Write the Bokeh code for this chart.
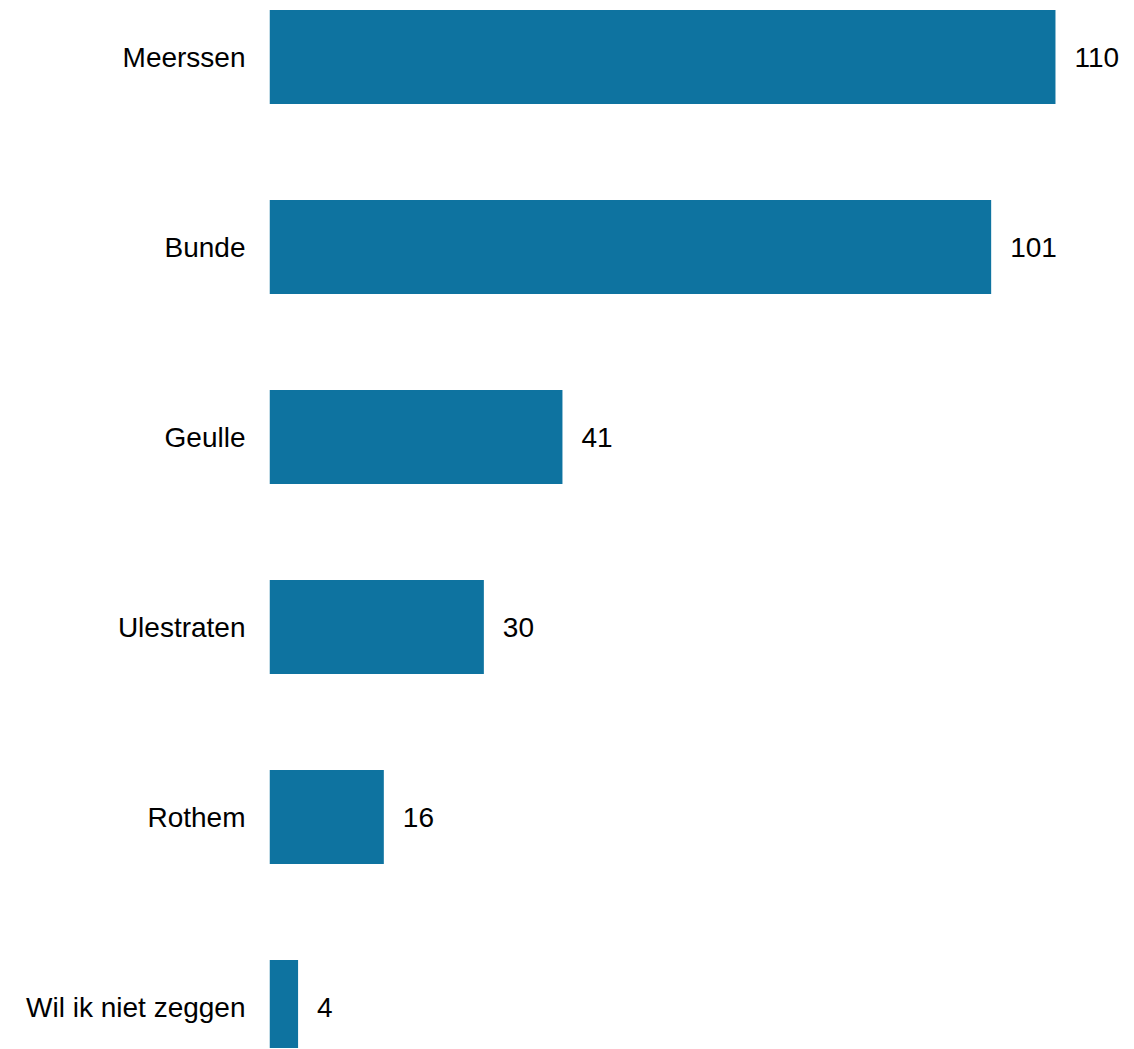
from bokeh.plotting import figure
from bokeh.models import ColumnDataSource, Range1d, FixedTicker
from bokeh.core.properties import value
from bokeh.embed import file_html
from bokeh.resources import INLINE

categories = ["Meerssen", "Bunde", "Geulle", "Ulestraten", "Rothem", "Wil ik niet zeggen"]
counts = [110, 101, 41, 30, 16, 4]

n = len(categories)
ypos = [n - i - 0.5 for i in range(n)]
src = ColumnDataSource(dict(y=ypos, v=counts, lab=[str(c) for c in counts], cat=categories))

FONT = "Liberation Sans"
W, H = 1134, 1048
p = figure(width=W, height=H, output_backend="svg", toolbar_location=None,
           x_range=Range1d(0, 121.06), y_range=Range1d(0.2816, 5.7974),
           min_border_left=269, min_border_right=0, min_border_top=0, min_border_bottom=0)

p.hbar(y="y", right="v", left=0, height=0.495, source=src, color="#0e73a0", line_color=None)
p.text(x="v", y="y", text="lab", source=src, x_offset=19, text_align="left",
       text_baseline="middle", text_font=value(FONT), text_font_size="28px", text_color="#000000")

p.xaxis.visible = False
p.yaxis.ticker = FixedTicker(ticks=ypos)
p.yaxis.major_label_overrides = {y: c for y, c in zip(ypos, categories)}
p.yaxis.major_label_text_font = FONT
p.yaxis.major_label_text_font_size = "28px"
p.yaxis.major_label_text_color = "#000000"
p.yaxis.major_label_standoff = 24
p.yaxis.major_tick_line_color = None
p.yaxis.minor_tick_line_color = None
p.yaxis.axis_line_color = None
p.yaxis.major_tick_out = 0
p.yaxis.major_tick_in = 0
p.grid.visible = False
p.outline_line_color = None

open("out.html", "w").write(file_html(p, INLINE))
